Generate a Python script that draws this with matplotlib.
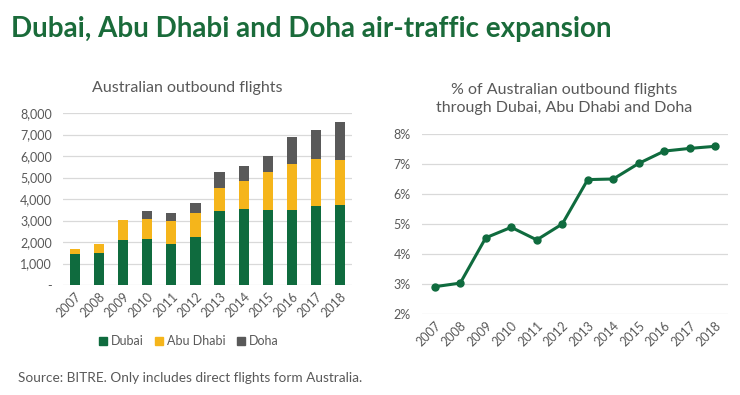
import matplotlib
matplotlib.use("Agg")
import matplotlib.pyplot as plt
from matplotlib.ticker import FuncFormatter, FixedLocator
from matplotlib.patches import Patch

years = ["2007", "2008", "2009", "2010", "2011", "2012", "2013", "2014", "2015", "2016", "2017", "2018"]
dubai = [1450, 1470, 2110, 2140, 1910, 2250, 3430, 3550, 3470, 3500, 3670, 3705]
abu_dhabi = [225, 420, 900, 945, 1080, 1100, 1080, 1270, 1785, 2145, 2190, 2110]
doha = [0, 0, 0, 375, 360, 465, 745, 715, 745, 1240, 1365, 1765]
share_pct = [2.91, 3.03, 4.54, 4.89, 4.47, 5.00, 6.48, 6.50, 7.02, 7.43, 7.52, 7.59]

GREEN = "#0F6B3E"
YELLOW = "#F5B51B"
GREY = "#595959"
TEXT = "#595959"
GRID = "#D9D9D9"

plt.rcParams['font.family'] = ['Lato', 'DejaVu Sans']

W, H = 740, 395
fig = plt.figure(figsize=(W / 100, H / 100), dpi=100)

def ax_at(l, t, r, b):
    return fig.add_axes([l / W, 1 - b / H, (r - l) / W, (b - t) / H])

fig.text(11 / W, 1 - 29 / H, "Dubai, Abu Dhabi and Doha air-traffic expansion",
         fontsize=20, fontweight='bold', color="#1A6B3A", va='center', ha='left')

# Left: stacked bars
ax1 = ax_at(63, 113, 352, 285)
x = list(range(len(years)))
bw = 0.42
ax1.bar(x, dubai, bw, color=GREEN, zorder=3, label="Dubai")
bottom2 = dubai
ax1.bar(x, abu_dhabi, bw, bottom=bottom2, color=YELLOW, zorder=3, label="Abu Dhabi")
bottom3 = [a + b for a, b in zip(dubai, abu_dhabi)]
ax1.bar(x, doha, bw, bottom=bottom3, color=GREY, zorder=3, label="Doha")
ax1.set_xlim(-0.5, len(years) - 0.5)
ax1.set_ylim(0, 8000)
ax1.yaxis.set_major_locator(FixedLocator(range(0, 8001, 1000)))
ax1.yaxis.set_major_formatter(FuncFormatter(lambda v, p: "-" if v == 0 else f"{int(v):,}"))
ax1.set_xticks(x)
ax1.set_xticklabels(years, rotation=45, ha='right', rotation_mode='anchor')
ax1.grid(axis='y', color=GRID, linewidth=0.9, zorder=0)
for s in ax1.spines.values():
    s.set_visible(False)
ax1.tick_params(length=0, colors=TEXT, labelsize=9)
ax1.tick_params(axis='y', pad=8)
ax1.tick_params(axis='x', pad=4)
fig.text(187 / W, 1 - 88 / H, "Australian outbound flights", fontsize=11.5, color=TEXT,
         ha='center', va='center')

handles = [Patch(color=GREEN, label="Dubai"), Patch(color=YELLOW, label="Abu Dhabi"),
           Patch(color=GREY, label="Doha")]
fig.legend(handles=handles, loc='center', bbox_to_anchor=(189 / W, 1 - 341 / H), ncol=3,
           frameon=False, fontsize=9, labelcolor=TEXT, handlelength=0.6, handleheight=0.6,
           handletextpad=0.35, columnspacing=0.9)

# Right: line
ax2 = ax_at(422, 134, 728, 314)
ax2.plot(x, share_pct, color=GREEN, linewidth=2.2, marker='o', markersize=5, zorder=3)
ax2.set_xlim(-0.5, len(years) - 0.5)
ax2.set_ylim(2, 8)
ax2.yaxis.set_major_locator(FixedLocator(range(2, 9)))
ax2.yaxis.set_major_formatter(FuncFormatter(lambda v, p: f"{int(v)}%"))
ax2.set_xticks(x)
ax2.set_xticklabels(years, rotation=45, ha='right', rotation_mode='anchor')
ax2.grid(axis='y', color=GRID, linewidth=0.9, zorder=0)
for s in ax2.spines.values():
    s.set_visible(False)
ax2.tick_params(length=0, colors=TEXT, labelsize=9)
ax2.tick_params(axis='y', pad=8)
ax2.tick_params(axis='x', pad=4)
fig.text(564 / W, 1 - 99 / H, "% of Australian outbound flights\nthrough Dubai, Abu Dhabi and Doha",
         fontsize=11.5, color=TEXT, ha='center', va='center', linespacing=1.45)

fig.text(18 / W, 1 - 378 / H, "Source: BITRE. Only includes direct flights form Australia.",
         fontsize=9.8, color=TEXT, ha='left', va='center')

fig.savefig("out.png", dpi=100)
